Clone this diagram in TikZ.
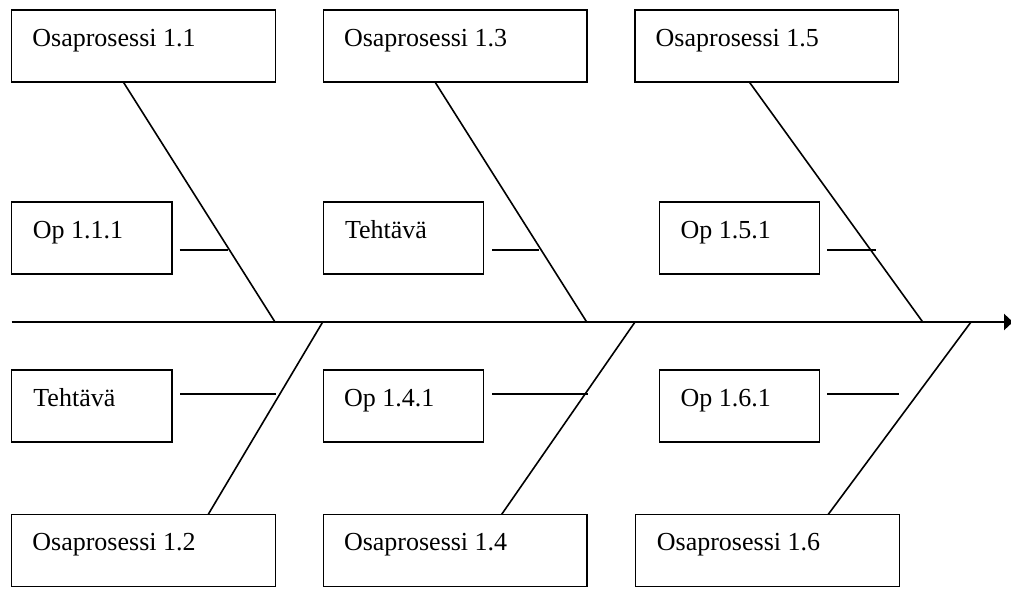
\documentclass[tikz,border=0pt]{standalone}
\usepackage{fontspec}
\setmainfont{Liberation Serif}
\usetikzlibrary{arrows.meta}

\tikzset{
  box/.style={draw=black, line width=1.3pt, inner sep=0pt, outer sep=0pt,
              anchor=north west, minimum height=72pt},
  wide/.style={box, minimum width=263.6pt},
  narrow/.style={box, minimum width=160.3pt},
  lbl/.style={anchor=base west, inner sep=0pt,
              font=\fontsize{26}{30}\selectfont},
  spine/.style={line width=2.6pt, -{Triangle[length=9pt,width=16pt]}},
  bone/.style={line width=1.6pt},
  tick/.style={line width=1.5pt}
}

\begin{document}
\begin{tikzpicture}[x=1pt,y=-1pt]
\useasboundingbox (0,0) rectangle (1011,589);

% main process boxes above the spine
\node[wide] (p11) at (11.7,10) {};
\node[wide] (p13) at (323.3,10) {};
\node[wide] (p15) at (635,10) {};
% sub-process boxes above the spine
\node[narrow] (o111) at (11.7,202) {};
\node[narrow] (t1)   at (323.3,202) {};
\node[narrow] (o151) at (659.3,202) {};
% sub-process boxes below the spine
\node[narrow] (t2)   at (11.7,370) {};
\node[narrow] (o141) at (323.3,370) {};
\node[narrow] (o161) at (659.3,370) {};
% main process boxes below the spine
\node[wide, minimum height=72.5pt] (p12) at (11.7,514.3) {};
\node[wide, minimum height=72.5pt] (p14) at (323.3,514.3) {};
\node[wide, minimum height=72.5pt] (p16) at (635.7,514.3) {};

% labels
\node[lbl] at ([xshift=20.5pt,yshift=-36.5pt]p11.north west) {Osaprosessi 1.1};
\node[lbl] at ([xshift=20.5pt,yshift=-36.5pt]p13.north west) {Osaprosessi 1.3};
\node[lbl] at ([xshift=20.5pt,yshift=-36.5pt]p15.north west) {Osaprosessi 1.5};
\node[lbl] at ([xshift=21pt,yshift=-36.5pt]o111.north west) {Op 1.1.1};
\node[lbl] at ([xshift=21.5pt,yshift=-36.5pt]t1.north west) {Tehtävä};
\node[lbl] at ([xshift=21pt,yshift=-36.5pt]o151.north west) {Op 1.5.1};
\node[lbl] at ([xshift=21.5pt,yshift=-36.5pt]t2.north west) {Tehtävä};
\node[lbl] at ([xshift=20.5pt,yshift=-36.5pt]o141.north west) {Op 1.4.1};
\node[lbl] at ([xshift=21pt,yshift=-36.5pt]o161.north west) {Op 1.6.1};
\node[lbl] at ([xshift=20.5pt,yshift=-36.5pt]p12.north west) {Osaprosessi 1.2};
\node[lbl] at ([xshift=20.5pt,yshift=-36.5pt]p14.north west) {Osaprosessi 1.4};
\node[lbl] at ([xshift=21pt,yshift=-36.5pt]p16.north west) {Osaprosessi 1.6};

% spine and its joints
\coordinate (start) at (11.7,322);
\coordinate (head)  at (1013,322);
\coordinate (j11) at (275,322);
\coordinate (j13) at (586.7,322);
\coordinate (j15) at (922.7,322);
\coordinate (j12) at (322.7,322);
\coordinate (j14) at (635,322);
\coordinate (j16) at (971,322);
\draw[spine] (start) -- (head);

% bones from the boxes to the spine
\draw[bone] ([xshift=111.6pt]p11.south west) -- (j11);
\draw[bone] ([xshift=111.7pt]p13.south west) -- (j13);
\draw[bone] ([xshift=114.3pt]p15.south west) -- (j15);
\draw[bone] ([xshift=196.6pt]p12.north west) -- (j12);
\draw[bone] ([xshift=178.4pt]p14.north west) -- (j14);
\draw[bone] ([xshift=192.6pt]p16.north west) -- (j16);

% small branches from the sub-process boxes
\draw[tick] ([xshift=7.6pt,yshift=-12pt]o111.east) -- ++(48,0);
\draw[tick] ([xshift=8.4pt,yshift=-12pt]t1.east)   -- ++(47.3,0);
\draw[tick] ([xshift=7.7pt,yshift=-12pt]o151.east) -- ++(48.3,0);
\draw[tick] ([xshift=8.3pt,yshift=12pt]t2.east)    -- ++(95.3,0);
\draw[tick] ([xshift=8.4pt,yshift=12pt]o141.east)  -- ++(95.6,0);
\draw[tick] ([xshift=7.7pt,yshift=12pt]o161.east)  -- ++(71.6,0);
\end{tikzpicture}
\end{document}
